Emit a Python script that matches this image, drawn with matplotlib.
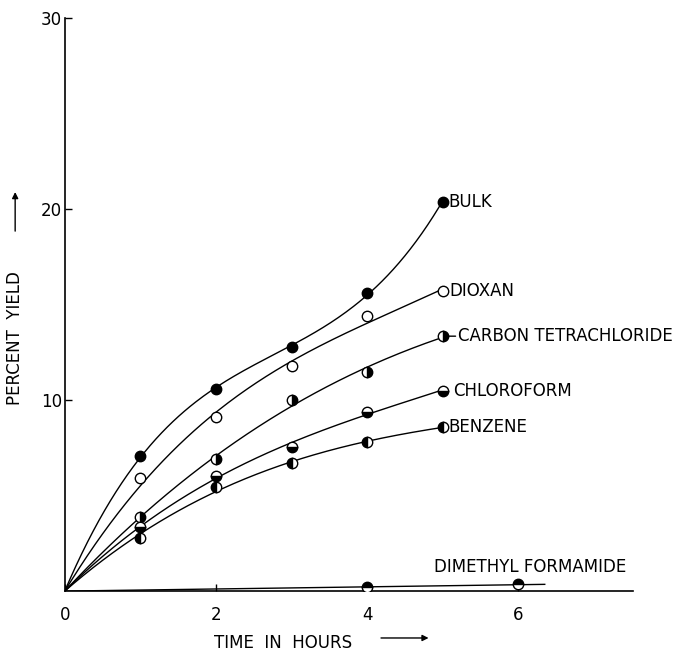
import numpy as np
import matplotlib
matplotlib.use("Agg")
import matplotlib.pyplot as plt

# hours and percent yield
hours = [1, 2, 3, 4, 5]
bulk = [7.1, 10.6, 12.8, 15.6, 20.4]
dioxan = [5.9, 9.1, 11.8, 14.4, 15.7]
carbon_tet = [3.9, 6.9, 10.0, 11.5, 13.35]
chloroform = [3.35, 6.05, 7.55, 9.4, 10.5]
benzene = [2.8, 5.45, 6.7, 7.8, 8.6]
dmf_hours = [4, 6]
dmf = [0.2, 0.35]

x_ticks = [0, 2, 4, 6]
y_ticks = [10, 20, 30]

series = [
    ("BULK", bulk, "full", 0.08),
    ("DIOXAN", dioxan, "none", 0.09),
    ("CARBON TETRACHLORIDE", carbon_tet, "right", 0.2),
    ("CHLOROFORM", chloroform, "bottom", 0.14),
    ("BENZENE", benzene, "left", 0.08),
]


def smooth_through_origin(x, y, x_end, deg=3):
    """ least squares polynomial without constant term, so it starts at 0 """
    x = np.asarray(x, float)
    A = np.column_stack([x ** k for k in range(1, deg + 1)])
    coef = np.linalg.lstsq(A, np.asarray(y, float), rcond=None)[0]
    xs = np.linspace(0, x_end, 200)
    ys = sum(c * xs ** (k + 1) for k, c in enumerate(coef))
    return xs, ys


fig = plt.figure(figsize=(6.89, 6.51), dpi=100)
ax = fig.add_axes([0.094, 0.092, 0.825, 0.88])
ax.set_xlim(0, 7.52)
ax.set_ylim(0, 30)

for name, vals, fill, off in series:
    xs, ys = smooth_through_origin(hours, vals, hours[-1])
    ax.plot(xs, ys, color="black", lw=1.0)
    mk, = ax.plot(hours, vals, ls="none", marker="o", ms=7.5, mec="black",
                  mfc="black", mfcalt="white", fillstyle=fill, mew=1.0, zorder=3)
    if fill == "none":
        mk.set_fillstyle("full")
        mk.set_markerfacecolor("white")
    tx = hours[-1] + off
    ax.text(tx, vals[-1], name, fontsize=12, va="center", ha="left")
    if name == "CARBON TETRACHLORIDE":
        ax.annotate("", xy=(hours[-1] + 0.08, vals[-1]), xytext=(tx - 0.03, vals[-1]),
                    arrowprops=dict(arrowstyle="-", lw=1.0, shrinkA=0, shrinkB=0))

# dimethyl formamide: nearly flat line
slope = np.dot(dmf_hours, dmf) / np.dot(dmf_hours, dmf_hours)
xs = np.linspace(0, 6.35, 50)
ax.plot(xs, slope * xs, color="black", lw=1.0)
ax.plot(dmf_hours, dmf, ls="none", marker="o", ms=7.5, mec="black", mfc="black",
        mfcalt="white", fillstyle="top", mew=1.0, zorder=3)
ax.text(4.88, 1.25, "DIMETHYL FORMAMIDE", fontsize=12, va="center", ha="left",
        clip_on=False)

for s in ["top", "right"]:
    ax.spines[s].set_visible(False)
for s in ["left", "bottom"]:
    ax.spines[s].set_linewidth(1.2)

ax.set_xticks(x_ticks)
ax.set_yticks(y_ticks)
ax.tick_params(axis="both", direction="in", length=5, width=1.0, labelsize=12)
ax.tick_params(axis="y", pad=2)
ax.tick_params(axis="x", pad=11)

fig.text(0.411, 0.0125, "TIME  IN  HOURS", fontsize=12, ha="center", va="center")
ax.annotate("", xy=(0.622, 0.02), xycoords="figure fraction",
            xytext=(0.553, 0.02), textcoords="figure fraction",
            arrowprops=dict(arrowstyle="-|>", lw=1.0, color="black",
                            mutation_scale=9, shrinkA=0, shrinkB=0))

fig.text(0.022, 0.48, "PERCENT  YIELD", fontsize=12, rotation=90,
         ha="center", va="center")
ax.annotate("", xy=(0.022, 0.705), xycoords="figure fraction",
            xytext=(0.022, 0.645), textcoords="figure fraction",
            arrowprops=dict(arrowstyle="-|>", lw=1.0, color="black",
                            mutation_scale=9, shrinkA=0, shrinkB=0))

fig.savefig("out.png", dpi=100)
